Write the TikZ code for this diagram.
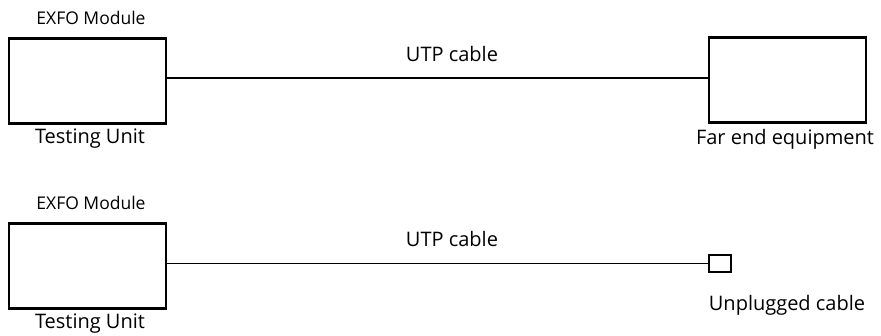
\documentclass[tikz,border=0pt]{standalone}
\usepackage{fontspec}
\setmainfont{Open Sans}
\usetikzlibrary{positioning}
\tikzset{
  unitbox/.style={draw,line width=2.8pt,minimum width=157pt,minimum height=85pt,inner sep=0pt},
  plugbox/.style={draw,line width=2.8pt,minimum width=22pt,minimum height=17pt,inner sep=0pt},
  cable/.style={line width=1.5pt},
  biglabel/.style={font=\fontsize{20}{23}\selectfont,inner sep=0pt},
  smalllabel/.style={font=\fontsize{17.5}{20}\selectfont,inner sep=0pt}
}
\begin{document}
\begin{tikzpicture}[x=1pt,y=-1pt]
\useasboundingbox (0,0) rectangle (881,336);
% connected to far end
\node[unitbox] (test1) at (87.5,81) {};
\node[unitbox] (far) at (787.5,80) {};
\draw[cable] (test1.east |- 0,78) -- (far.west |- 0,78);
\node[smalllabel] (mod1) at (91,18) {EXFO Module};
\node[biglabel] (unit1) at (90,139) {Testing Unit};
\node[biglabel] (utp1) at (452,54) {UTP cable};
\node[biglabel] (farlbl) at (785,139) {Far end equipment};
% unplugged
\node[unitbox] (test2) at (87.5,266) {};
\node[plugbox] (plug) at (720,263.5) {};
\draw[cable] (test2.east |- 0,263.5) -- (plug.west);
\node[smalllabel] (mod2) at (91,203) {EXFO Module};
\node[biglabel] (unit2) at (90,324) {Testing Unit};
\node[biglabel] (utp2) at (452,239) {UTP cable};
\node[biglabel] (pluglbl) at (787,305) {Unplugged cable};
\end{tikzpicture}
\end{document}
